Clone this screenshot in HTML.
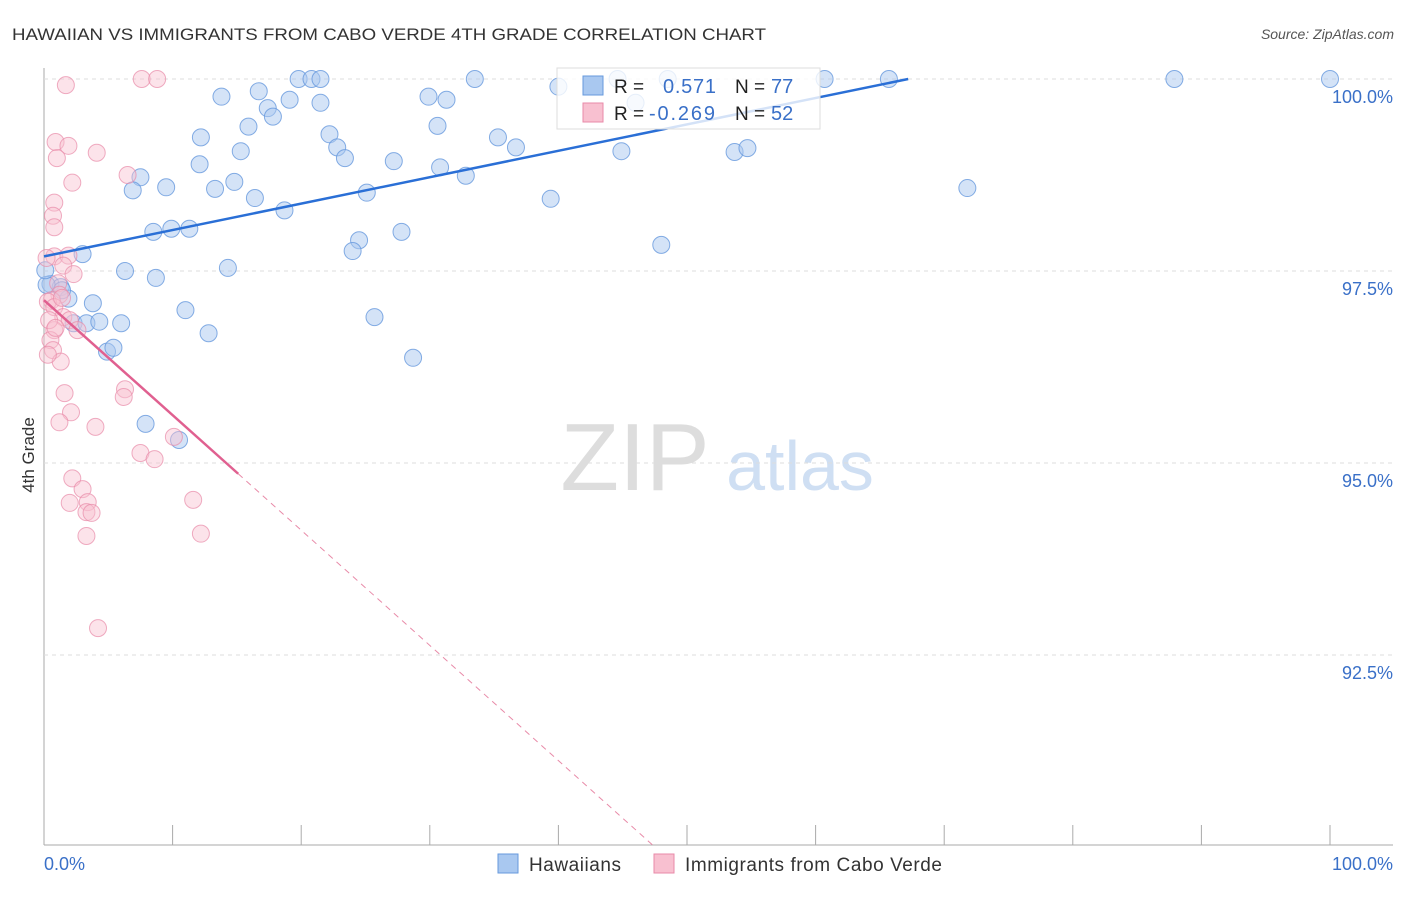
<!DOCTYPE html>
<html><head><meta charset="utf-8"><style>
body{margin:0;background:#fff;font-family:"Liberation Sans",sans-serif}
svg text{font-family:"Liberation Sans",sans-serif}
</style></head><body>
<svg id="c" width="1406" height="892">
<text x="12" y="40" font-size="17" fill="#333" textLength="754" lengthAdjust="spacingAndGlyphs">HAWAIIAN VS IMMIGRANTS FROM CABO VERDE 4TH GRADE CORRELATION CHART</text>
<text x="1394" y="39" font-size="14" fill="#555" font-style="italic" text-anchor="end">Source: ZipAtlas.com</text>
<text x="34" y="455" font-size="17" fill="#333" text-anchor="middle" transform="rotate(-90 34 455)">4th Grade</text>
<g><text x="635" y="490" font-size="96" fill="#ddd" font-family="Liberation Serif" text-anchor="middle">ZIP</text><text x="800" y="490" font-size="70" fill="#cfdff3" text-anchor="middle">atlas</text></g>
<g id="grid"></g><g id="pts"></g><g id="lines"></g>
<g>
<rect x="557" y="68" width="263" height="61" fill="#fff" fill-opacity="0.8" stroke="#ddd"/>
<rect x="583" y="76" width="20" height="19" fill="#a9c8f0" stroke="#6699dd"/>
<rect x="583" y="103" width="20" height="19" fill="#f8c0d0" stroke="#e88aa8"/>
<text x="614" y="93" font-size="19" fill="#222">R = </text><text x="663" y="93" font-size="20" fill="#3a70c8" textLength="53">0.571</text>
<text x="735" y="93" font-size="19" fill="#222">N = </text><text x="771" y="93" font-size="20" fill="#3a70c8">77</text>
<text x="614" y="120" font-size="19" fill="#222">R = </text><text x="649" y="120" font-size="20" fill="#3a70c8" textLength="66">-0.269</text>
<text x="735" y="120" font-size="19" fill="#222">N = </text><text x="771" y="120" font-size="20" fill="#3a70c8">52</text>
</g>
<g>
<rect x="498" y="854" width="20" height="19" fill="#a9c8f0" stroke="#6699dd"/>
<text x="529" y="871" font-size="19" fill="#333" textLength="92">Hawaiians</text>
<rect x="654" y="854" width="20" height="19" fill="#f8c0d0" stroke="#e88aa8"/>
<text x="685" y="871" font-size="19" fill="#333" textLength="257">Immigrants from Cabo Verde</text>
</g>
</svg>
<script>
const blueX=[19.8,20.8,21.5,33.5,40.0,44.6,48.5,60.7,65.7,87.9,100,13.8,16.7,17.4,17.8,19.1,21.5,29.9,31.3,15.9,12.2,15.3,22.2,22.8,23.4,27.2,30.6,30.8,35.3,36.7,44.9,53.7,54.7,46.0,12.1,7.5,6.9,9.5,13.3,14.8,16.4,18.7,25.1,32.8,39.4,71.8,8.5,9.9,11.3,24.5,24.0,27.8,48.0,3.0,6.3,8.7,14.3,0.5,1.3,1.9,3.8,11.0,2.3,3.3,4.3,6.0,12.8,25.7,28.7,4.9,5.4,7.9,10.5,0.2,0.1,1.4];
const blueY=[100,100,100,100,99.90,100,100,100,100,100,100,99.77,99.84,99.62,99.51,99.73,99.69,99.77,99.73,99.38,99.24,99.06,99.28,99.11,98.97,98.93,99.39,98.85,99.24,99.11,99.06,99.05,99.10,99.69,98.89,98.72,98.55,98.59,98.57,98.66,98.45,98.29,98.52,98.74,98.44,98.58,98.01,98.05,98.05,97.90,97.76,98.01,97.84,97.72,97.50,97.41,97.54,97.33,97.29,97.14,97.08,96.99,96.82,96.82,96.84,96.82,96.69,96.90,96.37,96.45,96.50,95.51,95.30,97.32,97.51,97.25];
const pinkX=[1.7,7.6,8.8,0.9,1.9,1.0,4.1,2.2,6.5,0.8,0.7,0.8,0.8,1.9,1.5,2.3,1.1,1.2,0.6,0.3,0.8,1.5,2.0,2.6,0.8,0.5,0.7,1.3,0.3,6.3,6.2,1.6,2.1,1.2,4.0,10.1,7.5,8.6,2.2,3.0,2.0,3.4,3.3,3.7,11.6,3.3,12.2,4.2,0.2,0.4,0.9,1.4];
const pinkY=[99.92,100,100,99.18,99.13,98.97,99.04,98.65,98.75,98.39,98.22,98.07,97.69,97.70,97.57,97.46,97.34,97.19,97.12,97.10,97.03,96.90,96.86,96.73,96.73,96.60,96.47,96.32,96.41,95.96,95.86,95.91,95.66,95.53,95.47,95.34,95.13,95.05,94.80,94.66,94.48,94.49,94.36,94.35,94.52,94.05,94.08,92.85,97.67,96.86,96.76,97.15];
const yTicks=[100,97.5,95,92.5];
const yTickLabels=["100.0%","97.5%","95.0%","92.5%"];
const xTicks=[0,10,20,30,40,50,60,70,80,90,100];
const blueTrend=[[0,97.69],[67.2,100]];
const pinkTrend=[[0,97.12],[15.1,94.86]];
const pinkTrendDash=[[15.1,94.86],[47.3,90.03]];
const NS="http://www.w3.org/2000/svg";
const sx=v=>44+v*12.86, sy=v=>79+(100-v)*76.8;
function mk(t,a,p){const e=document.createElementNS(NS,t);for(const k in a)e.setAttribute(k,a[k]);p.appendChild(e);return e;}
const g=document.getElementById('grid');
const ax=mk('line',{x1:44,y1:68,x2:44,y2:845,stroke:'#aaa'},g);


const bx=mk('line',{x1:44,y1:845,x2:1393,y2:845,stroke:'#aaa'},g);


yTicks.forEach((v,i)=>{
 const l=mk('line',{x1:44,x2:1393,y1:sy(v),y2:sy(v),stroke:'#ddd','stroke-dasharray':'4,4'},g);
 
 
 const t=mk('text',{x:1393,y:sy(v)+24,'font-size':18,fill:'#3a70c8','text-anchor':'end'},g);t.textContent=yTickLabels[i];
 
 
});
xTicks.forEach(v=>{
 const l=mk('line',{x1:sx(v),x2:sx(v),y1:825,y2:845,stroke:'#aaa'},g);
 
 
});
const t0=mk('text',{x:44,y:870,'font-size':18,fill:'#3a70c8'},g);t0.textContent='0.0%';


const t1=mk('text',{x:1393,y:870,'font-size':18,fill:'#3a70c8','text-anchor':'end'},g);t1.textContent='100.0%';


const p=document.getElementById('pts');
blueX.forEach((x,i)=>{
 const c=mk('circle',{cx:sx(x),cy:sy(blueY[i]),r:8.5,fill:'#a9c8f0','fill-opacity':0.5,stroke:'#6699dd','stroke-opacity':0.8},p);
 
 
});
pinkX.forEach((x,i)=>{
 const c=mk('circle',{cx:sx(x),cy:sy(pinkY[i]),r:8.5,fill:'#f8c0d0','fill-opacity':0.45,stroke:'#e88aa8','stroke-opacity':0.7},p);
 
 
});
const L=document.getElementById('lines');
const b=mk('line',{x1:sx(blueTrend[0][0]),y1:sy(blueTrend[0][1]),x2:sx(blueTrend[1][0]),y2:sy(blueTrend[1][1]),stroke:'#2a6fd6','stroke-width':2.5},L);


const pk=mk('line',{x1:sx(pinkTrend[0][0]),y1:sy(pinkTrend[0][1]),x2:sx(pinkTrend[1][0]),y2:sy(pinkTrend[1][1]),stroke:'#e06090','stroke-width':2.5},L);


const pd=mk('line',{x1:sx(pinkTrendDash[0][0]),y1:sy(pinkTrendDash[0][1]),x2:sx(pinkTrendDash[1][0]),y2:sy(pinkTrendDash[1][1]),stroke:'#e88aa8','stroke-width':1,'stroke-dasharray':'6,5'},L);


</script>
</body></html>
